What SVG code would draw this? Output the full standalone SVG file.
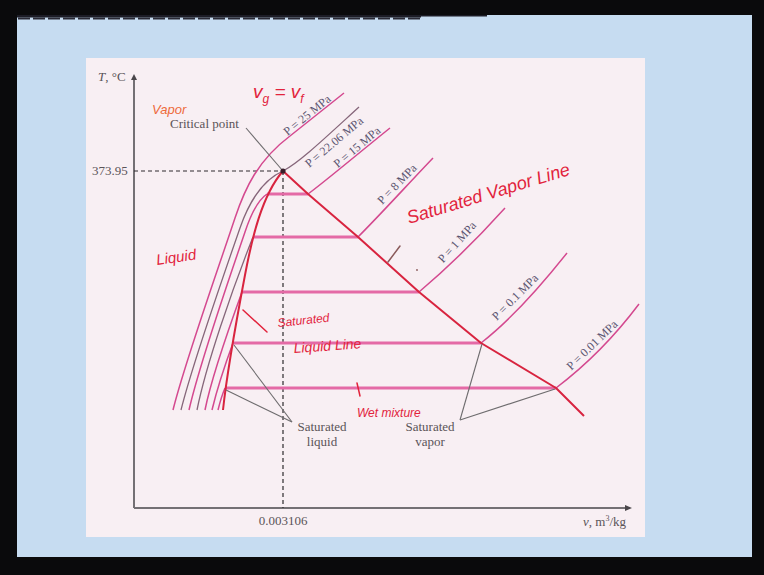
<svg xmlns="http://www.w3.org/2000/svg" width="764" height="575" viewBox="0 0 764 575">
<style>
.lbl{font-family:"Liberation Serif",serif;font-size:13px;fill:#5a5458}
.plbl{font-family:"Liberation Serif",serif;font-size:12px;fill:#5b5470;text-anchor:middle}
.iso{fill:none;stroke:#d4498f;stroke-width:1.5}
.isog{fill:none;stroke:#86667a;stroke-width:1.3}
.hz{fill:none;stroke:#e46aa6;stroke-width:3}
.sat{fill:none;stroke:#d8243f;stroke-width:2;stroke-linejoin:round}
.lead{fill:none;stroke:#6e6c6e;stroke-width:1.1}
.dash{fill:none;stroke:#2e2a2e;stroke-width:1.2;stroke-dasharray:4 3}
.axis{fill:none;stroke:#747074;stroke-width:2}
.hw{font-family:"Liberation Sans",sans-serif;font-style:italic;fill:#e2233c}
.pen{fill:none;stroke:#e2233c;stroke-width:1.5;stroke-linecap:round}
</style>
<rect x="0" y="0" width="764" height="575" fill="#0a0a0c"/>
<rect x="17" y="15" width="735" height="542" fill="#c6dcf1"/>
<rect x="17" y="15" width="404" height="2.5" fill="#1c1c26"/>
<line x1="18" y1="18.5" x2="421" y2="18.5" stroke="#2a2a36" stroke-width="2" stroke-dasharray="12 3"/>
<line x1="421" y1="15.8" x2="487" y2="15.8" stroke="#1c1c26" stroke-width="1.6"/>
<rect x="86" y="58" width="559" height="479" fill="#f8eff3"/>

<g id="axes">
<line class="axis" x1="134" y1="77" x2="134" y2="508"/>
<line class="axis" x1="134" y1="508" x2="628" y2="508"/>
<path d="M632,508 L625,505 L625,511 Z" fill="#4a464a"/>
<path d="M134,74 L131,80 L137,80 Z" fill="#4a464a"/>
<text class="lbl" x="98" y="81"><tspan font-style="italic">T</tspan>, °C</text>
<text class="lbl" x="583" y="526"><tspan font-style="italic">v</tspan>, m<tspan font-size="8" dy="-5">3</tspan><tspan dy="5">/kg</tspan></text>
</g>

<g id="reference-lines">
<line class="dash" x1="134" y1="171" x2="283" y2="171"/>
<line class="dash" x1="283" y1="171" x2="283" y2="508"/>
<text class="lbl" x="92" y="175">373.95</text>
<text class="lbl" x="283" y="525" text-anchor="middle">0.003106</text>
</g>

<g id="connectors">
<g id="isobar-p25"><path class="iso" d="M173,410 C185,362 215,278 235,218 C245,188 258,160 290,136 L344,93"/></g>
<g id="isobar-p22"><path class="isog" d="M181,410 C193,362 222,280 240,228 C248,205 262,180 283,171 C300,162 325,138 359,107"/></g>
<g id="isobar-p15"><path class="iso" d="M189,410 C200,362 228,282 245,232 C251,214 258,200 267,194"/><path class="hz" d="M267,194 L308,194"/><path class="iso" d="M308,194 C322,184 360,152 390,128"/></g>
<g id="isobar-p8"><path class="isog" d="M197,410 C206,365 232,290 253,237"/><path class="hz" d="M253,237 L358,237"/><path class="iso" d="M358,237 C380,215 410,182 433,158"/></g>
<g id="isobar-p1"><path class="iso" d="M205,410 C212,375 230,325 242,292"/><path class="hz" d="M242,292 L419,292"/><path class="iso" d="M419,292 C445,270 478,238 505,208"/></g>
<g id="isobar-p01"><path class="iso" d="M212,410 C218,385 226,362 233,343"/><path class="hz" d="M233,343 L481,343"/><path class="iso" d="M481,343 C508,322 540,287 567,253"/></g>
<g id="isobar-p001"><path class="iso" d="M218,410 C220,402 222,395 225,388"/><path class="hz" d="M225,388 L556,388"/><path class="iso" d="M556,388 C585,366 615,336 639,304"/></g>
<g id="sat-liquid-line"><path class="sat" d="M223,410 C227,372 238,312 245,275 C252,238 262,195 283,171"/></g>
<g id="sat-vapor-line"><path class="sat" d="M283,171 L308,194 L358,237 L419,292 L481,343 L556,388 L584,416"/></g>
<g id="leaders">
<line class="lead" x1="246" y1="128" x2="283" y2="171"/>
<line class="lead" x1="292" y1="422" x2="234" y2="345"/>
<line class="lead" x1="292" y1="422" x2="226" y2="390"/>
<line class="lead" x1="460" y1="420" x2="482" y2="344"/>
<line class="lead" x1="460" y1="420" x2="555" y2="389"/>
</g>
</g>

<g id="critical-point">
<circle cx="283" cy="171" r="2.6" fill="#3a1e2a"/>
<text class="lbl" x="170" y="128">Critical point</text>
</g>

<g id="pressure-labels">
<text class="plbl" transform="translate(307,115) rotate(-39)" dy="4">P = 25 MPa</text>
<text class="plbl" transform="translate(334,142) rotate(-40)" dy="4">P = 22.06 MPa</text>
<text class="plbl" transform="translate(357,147) rotate(-40)" dy="4">P = 15 MPa</text>
<text class="plbl" transform="translate(397,184) rotate(-46)" dy="4">P = 8 MPa</text>
<text class="plbl" transform="translate(457,242) rotate(-48)" dy="4">P = 1 MPa</text>
<text class="plbl" transform="translate(515,297) rotate(-45)" dy="4">P = 0.1 MPa</text>
<text class="plbl" transform="translate(592,345) rotate(-44)" dy="4">P = 0.01 MPa</text>
</g>

<g id="sat-labels">
<text class="lbl" x="322" y="431" text-anchor="middle">Saturated</text>
<text class="lbl" x="322" y="446" text-anchor="middle">liquid</text>
<text class="lbl" x="430" y="431" text-anchor="middle">Saturated</text>
<text class="lbl" x="430" y="446" text-anchor="middle">vapor</text>
</g>

<g id="annotations">
<text class="hw" x="253" y="98" font-size="19">v<tspan font-size="12" dy="5">g</tspan><tspan dy="-5"> = v</tspan><tspan font-size="12" dy="5">f</tspan></text>
<text class="hw" x="152" y="114" font-size="13" style="fill:#ee6a3a">Vapor</text>
<text class="hw" transform="translate(157,265) rotate(-8)" font-size="15">Liquid</text>
<text class="hw" transform="translate(409,224) rotate(-17)" font-size="18">Saturated Vapor Line</text>
<text class="hw" transform="translate(278,327) rotate(-6)" font-size="12">Saturated</text>
<text class="hw" transform="translate(294,353) rotate(-4)" font-size="14">Liquid Line</text>
<text class="hw" x="357" y="417" font-size="12">Wet mixture</text>
<path class="pen" d="M243,310 L267,332"/>
<path class="pen" d="M357,383 L360,396"/>
<path class="pen" d="M400,246 L388,262" style="stroke:#8a5a5a"/>
<circle cx="417" cy="270" r="0.9" fill="#8a5a5a"/>
</g>
</svg>
